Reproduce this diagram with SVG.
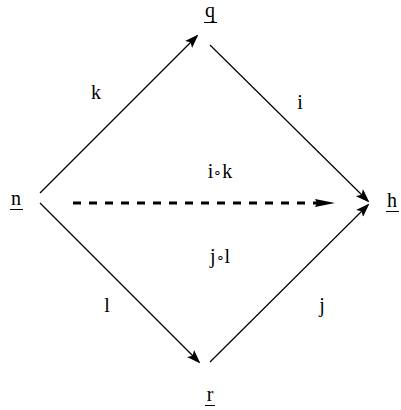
<svg xmlns="http://www.w3.org/2000/svg" width="401" height="410" viewBox="0 0 401 410">
<style>
text{font-family:"Liberation Serif","Times New Roman",serif;font-size:20px;fill:#000;text-anchor:middle}
.c{font-size:14px}
.e{stroke:#000;stroke-width:1.2;fill:none}
.d{stroke:#000;stroke-width:3;fill:none;stroke-dasharray:8 8}
.u{stroke:#000;stroke-width:1}
</style>
<defs>
<marker id="ah" markerUnits="userSpaceOnUse" markerWidth="14" markerHeight="10" refX="12" refY="5" orient="auto" viewBox="0 0 14 10">
<path d="M14,5 L0,0 L3,5 L0,10 Z" fill="#000"/>
</marker>
<marker id="dh" markerUnits="userSpaceOnUse" markerWidth="20" markerHeight="8" refX="2" refY="4" orient="auto" viewBox="0 0 20 8">
<path d="M20,4 L0,0 L2,4 L0,8 Z" fill="#000"/>
</marker>
</defs>
<g id="connectors">
<line class="e" x1="40" y1="193" x2="197" y2="36" marker-end="url(#ah)"/>
<line class="e" x1="210" y1="45" x2="368" y2="201" marker-end="url(#ah)"/>
<line class="e" x1="40" y1="203" x2="199" y2="362" marker-end="url(#ah)"/>
<line class="e" x1="210" y1="362" x2="368" y2="205" marker-end="url(#ah)"/>
<line class="d" x1="73" y1="203" x2="317" y2="203" marker-end="url(#dh)"/>
<text x="96" y="99">k</text>
<text x="300" y="109">i</text>
<text x="220" y="178">i<tspan class="c" dy="-1">∘</tspan><tspan dy="1">k</tspan></text>
<text x="220" y="263">j<tspan class="c" dy="-1">∘</tspan><tspan dy="1">l</tspan></text>
<text x="107" y="312">l</text>
<text x="322" y="312">j</text>
</g>
<g id="node-n"><text x="16" y="205">n</text><line class="u" x1="10" y1="209.5" x2="23" y2="209.5"/></g>
<g id="node-q"><text x="210" y="17">q</text><line class="u" x1="204" y1="22.5" x2="217" y2="22.5"/></g>
<g id="node-h"><text x="392" y="207">h</text><line class="u" x1="386" y1="211.5" x2="399" y2="211.5"/></g>
<g id="node-r"><text x="210" y="401">r</text><line class="u" x1="205" y1="405.5" x2="215" y2="405.5"/></g>
</svg>
